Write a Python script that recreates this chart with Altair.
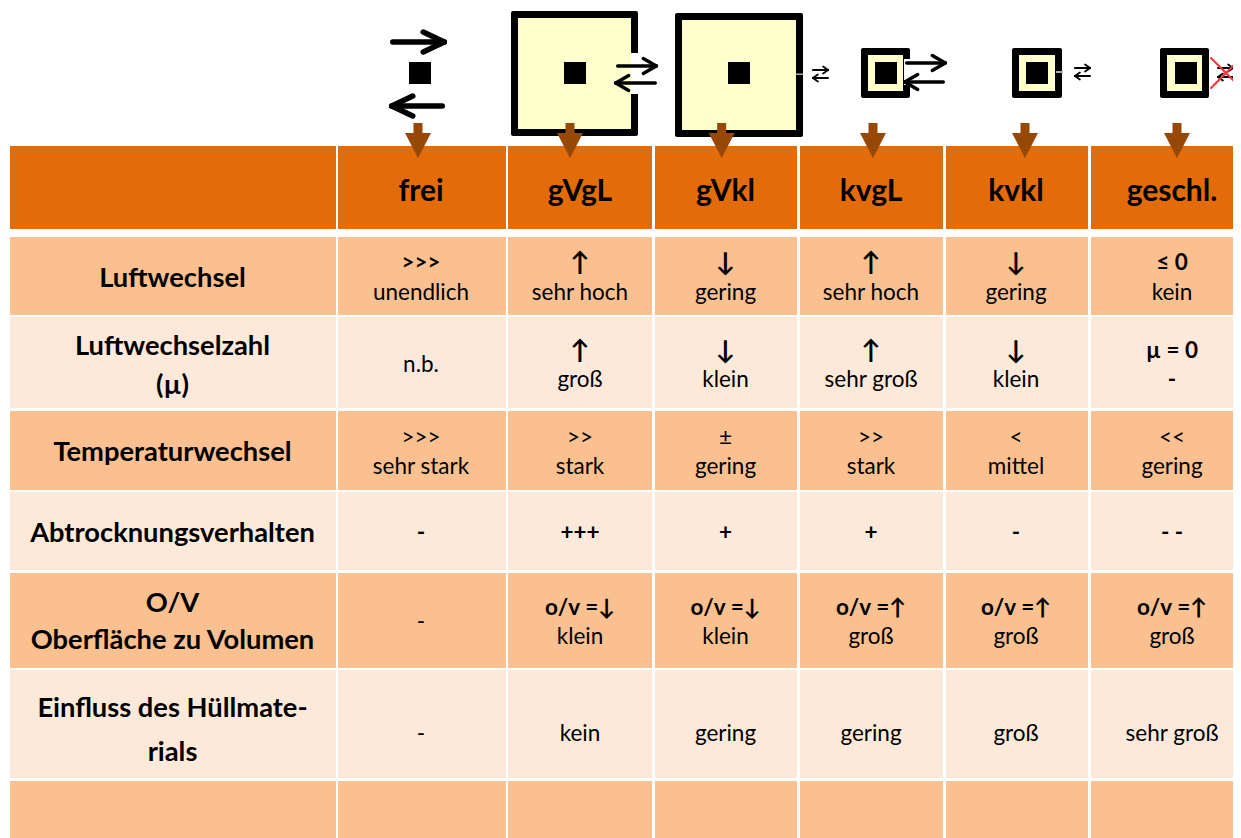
import altair as alt
import pandas as pd

FONT = "Lato"
HEADER = "#E36C0A"
DARK = "#FBC08F"
LIGHT = "#FDE9D9"
YELLOW = "#FFFFCC"
BROWN = "#974806"

# table grid
col_left = [10, 338, 508, 655, 800, 946, 1091]
col_right = [336, 506, 652, 797, 943, 1088, 1241]
row_top = [146, 237, 317, 411, 492, 573, 670, 781]
row_bottom = [229, 315, 408, 490, 570, 668, 778, 838]
row_fill = [HEADER, DARK, LIGHT, DARK, LIGHT, DARK, LIGHT, DARK]

# text
col_center = [421, 580, 725.5, 871, 1016, 1172]
columns = ["frei", "gVgL", "gVkl", "kvgL", "kvkl", "geschl."]

row_labels = ["Luftwechsel", "Luftwechselzahl", "(µ)", "Temperaturwechsel",
              "Abtrocknungsverhalten", "O/V", "Oberfläche zu Volumen",
              "Einfluss des Hüllmate-", "rials"]
row_label_y = [277, 345, 384, 451, 532, 602, 639, 707, 751]

top_y = [262, 350, 437, 532, 607]
bottom_y = [292, 379, 466, 636, 733]
luft_top = [">>>", "↑", "↓", "↑", "↓", "≤ 0"]
luft_bot = ["unendlich", "sehr hoch", "gering", "sehr hoch", "gering", "kein"]
zahl_top = ["", "↑", "↓", "↑", "↓", "µ = 0"]
zahl_bot = ["", "groß", "klein", "sehr groß", "klein", "-"]
temp_top = [">>>", ">>", "±", ">>", "<", "<<"]
temp_bot = ["sehr stark", "stark", "gering", "stark", "mittel", "gering"]
abtr = ["-", "+++", "+", "+", "-", "- -"]
ov_top = ["", "o/v =↓", "o/v =↓", "o/v =↑", "o/v =↑", "o/v =↑"]
ov_bot = ["", "klein", "klein", "groß", "groß", "groß"]
huell = ["-", "kein", "gering", "gering", "groß", "sehr groß"]
extra_text = ["n.b.", "-"]
extra_x = [421, 421]
extra_y = [364, 621]

# diagrams: boxes (left, right, top, bottom, border)
box_left = [511, 675, 861, 1012, 1160]
box_right = [638, 803, 910, 1062, 1209]
box_top = [11, 13, 48, 48, 48]
box_bottom = [136, 137, 98, 98, 98]
box_border = [7, 7, 7, 7, 7]
core_x = [420, 575, 739, 886, 1037, 1186]
core_half = 11
core_y = 73
gap_left = [631, 796, 904, 1056]
gap_right = [638, 803, 910, 1063]
gap_top = [53, 73.5, 59, 71]
gap_bottom = [94, 75, 85, 73]
gap_fill = ["#FFFFFF", "#AAAAAA", "#FFFFFF", "#AAAAAA"]

# arrows: tail x, tip x, y, head length, head half height, stroke
arrow_tail = [390, 445, 616, 657, 812, 829, 905, 945, 1074, 1091, 1217, 1234]
arrow_tip = [447, 389, 658, 614, 829, 812, 947, 903, 1091, 1074, 1234, 1217]
arrow_y = [42, 106, 66, 83, 70, 78, 63, 82, 68, 76, 68, 77]
arrow_len = [21, 21, 13, 13, 5, 5, 13, 13, 5, 5, 5, 5]
arrow_high = [10, 10, 7.5, 7.5, 3.5, 3.5, 7.5, 7.5, 3.5, 3.5, 3.5, 3.5]
arrow_width = [5.5, 5.5, 3.4, 3.4, 1.8, 1.8, 3.4, 3.4, 1.8, 1.8, 1.8, 1.8]

cross_x1 = [1211, 1211]
cross_x2 = [1241, 1241]
cross_y1 = [58, 88]
cross_y2 = [88, 58]

down_x = [418, 570, 721.7, 873, 1025, 1177]
down_y = 140.5
DOWN_PATH = "M-.257,-1L.257,-1L.257,-.43L.743,-.43L0,1L-.743,-.43L-.257,-.43Z"

X = alt.Scale(domain=[8, 1233])
Y = alt.Scale(domain=[838, 8])


def rect_layer(rows, radius=0):
    return alt.Chart(pd.DataFrame(rows)).mark_rect(cornerRadius=radius).encode(
        x=alt.X("x:Q", scale=X, axis=None),
        x2="x2:Q",
        y=alt.Y("y:Q", scale=Y, axis=None),
        y2="y2:Q",
        color=alt.Color("c:N", scale=None),
    )


def text_layer(rows, size, bold=False, dy=1):
    return alt.Chart(pd.DataFrame(rows)).mark_text(
        font=FONT, fontSize=size, fontWeight="bold" if bold else "normal",
        color="#000000", align="center", baseline="middle", dy=dy,
    ).encode(
        x=alt.X("x:Q", scale=X, axis=None),
        y=alt.Y("y:Q", scale=Y, axis=None),
        text="t:N",
    )


cells = [
    {"x": l, "x2": r, "y": t, "y2": b, "c": f}
    for t, b, f in zip(row_top, row_bottom, row_fill)
    for l, r in zip(col_left, col_right)
]

box_black = [{"x": l, "x2": r, "y": t, "y2": b, "c": "#000000"}
             for l, r, t, b in zip(box_left, box_right, box_top, box_bottom)]
box_inner = [{"x": l + w, "x2": r - w, "y": t + w, "y2": b - w, "c": YELLOW}
             for l, r, t, b, w in zip(box_left, box_right, box_top, box_bottom, box_border)]
gaps = [{"x": l, "x2": r, "y": t, "y2": b, "c": c}
        for l, r, t, b, c in zip(gap_left, gap_right, gap_top, gap_bottom, gap_fill)]
cores = [{"x": x - core_half, "x2": x + core_half, "y": core_y - core_half,
          "y2": core_y + core_half, "c": "#000000"} for x in core_x]

segments = []
for tail, tip, y, ln, hi, w in zip(arrow_tail, arrow_tip, arrow_y, arrow_len, arrow_high, arrow_width):
    sign = 1 if tip > tail else -1
    tail_in = tail + sign * w / 2
    tip_in = tip - sign * w / 2
    segments.append({"x": tail_in, "x2": tip_in, "y": y, "y2": y, "w": w, "c": "#000000"})
    segments.append({"x": tip_in - sign * ln, "x2": tip_in, "y": y - hi, "y2": y, "w": w, "c": "#000000"})
    segments.append({"x": tip_in - sign * ln, "x2": tip_in, "y": y + hi, "y2": y, "w": w, "c": "#000000"})
for a, b, c, d in zip(cross_x1, cross_x2, cross_y1, cross_y2):
    segments.append({"x": a, "x2": b, "y": c, "y2": d, "w": 2, "c": "#F2353B"})

arrows = alt.Chart(pd.DataFrame(segments)).mark_rule(strokeCap="round").encode(
    x=alt.X("x:Q", scale=X, axis=None),
    x2="x2:Q",
    y=alt.Y("y:Q", scale=Y, axis=None),
    y2="y2:Q",
    color=alt.Color("c:N", scale=None),
    strokeWidth=alt.StrokeWidth("w:Q", scale=None),
)

down = alt.Chart(pd.DataFrame({"x": down_x, "y": [down_y] * len(down_x)})).mark_point(
    shape=DOWN_PATH, size=1225, filled=True, opacity=1, color=BROWN, strokeWidth=0,
).encode(
    x=alt.X("x:Q", scale=X, axis=None),
    y=alt.Y("y:Q", scale=Y, axis=None),
)

header_text = [{"x": x, "y": 191, "t": t} for x, t in zip(col_center, columns)]
label_text = [{"x": 172.5, "y": y, "t": t} for y, t in zip(row_label_y, row_labels)]

bold_rows = []
arrow_rows = []
for tops, y in [(luft_top, top_y[0]), (zahl_top, top_y[1]), (abtr, top_y[3]), (ov_top, top_y[4])]:
    for x, t in zip(col_center, tops):
        if t in ("↑", "↓"):
            arrow_rows.append({"x": x, "y": y, "t": t})
        elif t:
            bold_rows.append({"x": x, "y": y, "t": t})
bold_rows.append({"x": col_center[5], "y": bottom_y[1], "t": zahl_bot[5]})

regular_rows = []
for x, t in zip(col_center, temp_top):
    regular_rows.append({"x": x, "y": top_y[2], "t": t})
for bots, y in [(luft_bot, bottom_y[0]), (zahl_bot[:5], bottom_y[1]), (temp_bot, bottom_y[2]),
                (ov_bot, bottom_y[3]), (huell, bottom_y[4])]:
    for x, t in zip(col_center, bots):
        if t:
            regular_rows.append({"x": x, "y": y, "t": t})
for x, y, t in zip(extra_x, extra_y, extra_text):
    regular_rows.append({"x": x, "y": y, "t": t})

chart = alt.layer(
    rect_layer(cells),
    rect_layer(box_black, radius=2),
    rect_layer(box_inner),
    rect_layer(gaps),
    rect_layer(cores),
    arrows,
    down,
    text_layer(header_text, 30, True),
    text_layer(label_text, 27.3, True, dy=1.5),
    text_layer(bold_rows, 22.5, True),
    text_layer(arrow_rows, 26, True),
    text_layer(regular_rows, 22.5),
).properties(
    width=1225, height=830, padding=0,
    autosize=alt.AutoSizeParams(type="none", contains="content"),
).configure_view(stroke=None)

chart.save("out.html", embed_options={"renderer": "svg", "actions": False})
